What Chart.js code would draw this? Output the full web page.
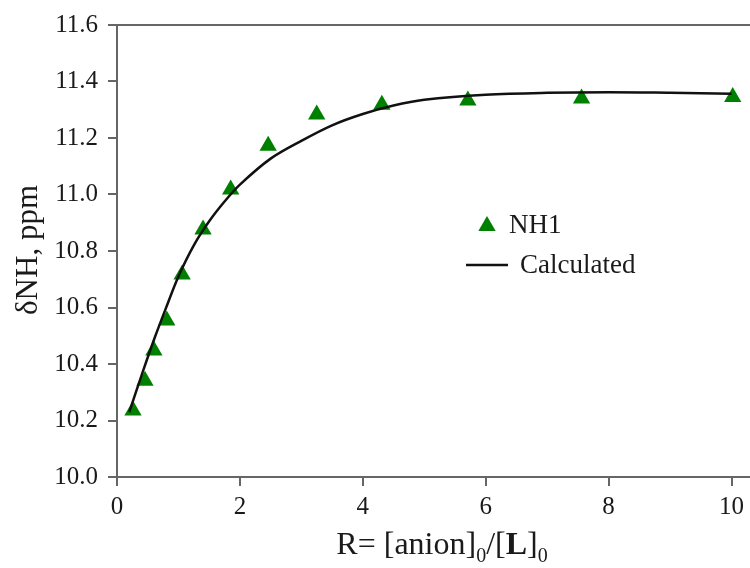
<!DOCTYPE html>
<html>
<head>
<meta charset="utf-8">
<script src="https://cdn.jsdelivr.net/npm/chart.js@4.4.1/dist/chart.umd.min.js"></script>
<style>
  html, body { margin: 0; padding: 0; background: #fff; }
</style>
</head>
<body>
<canvas id="chart" width="750" height="568"></canvas>
<script>
// measured points (NH1)
const ratioNH1 = [0.26, 0.455, 0.60, 0.81, 1.06, 1.40, 1.85, 2.46, 3.25, 4.31, 5.71, 7.56, 10.02];
const shiftNH1 = [10.235, 10.341, 10.448, 10.554, 10.717, 10.876, 11.018, 11.173, 11.283, 11.318, 11.333, 11.340, 11.345];

// fitted curve
const ratioCalc = [0.2, 0.4, 0.6, 0.8, 1.0, 1.25, 1.5, 1.75, 2.0, 2.5, 3.0, 3.5, 4.0, 4.5, 5.0, 6.0, 7.0, 8.0, 9.0, 10.0];
const shiftCalc = [10.23, 10.36, 10.485, 10.60, 10.71, 10.82, 10.905, 10.975, 11.035, 11.127, 11.19, 11.245, 11.285, 11.315, 11.335, 11.353, 11.360, 11.362, 11.360, 11.357];

const labelNH1 = 'NH1';
const labelCalc = 'Calculated';

const serif = '"Liberation Serif", "DejaVu Serif", serif';
const axisColor = '#666666';
const textColor = '#1a1a1a';
const green = '#008000';

function toXY(xs, ys) {
  return xs.map((x, i) => ({ x: x, y: ys[i] }));
}

// top frame line, legend and axis titles (x title has subscripts + bold L)
const extras = {
  id: 'extras',
  afterDraw(chart) {
    const ctx = chart.ctx;
    const area = chart.chartArea;
    ctx.save();

    ctx.strokeStyle = axisColor;
    ctx.lineWidth = 2;
    ctx.beginPath();
    ctx.moveTo(area.left, area.top);
    ctx.lineTo(chart.width, area.top);
    ctx.stroke();

    // legend
    ctx.fillStyle = green;
    const tx = 487, ty = 226, r = 10;
    ctx.beginPath();
    ctx.moveTo(tx, ty - r);
    ctx.lineTo(tx + r * 0.866, ty + r / 2);
    ctx.lineTo(tx - r * 0.866, ty + r / 2);
    ctx.closePath();
    ctx.fill();

    ctx.strokeStyle = '#111';
    ctx.lineWidth = 2.5;
    ctx.beginPath();
    ctx.moveTo(466, 265);
    ctx.lineTo(508, 265);
    ctx.stroke();

    ctx.fillStyle = textColor;
    ctx.font = '27px ' + serif;
    ctx.textBaseline = 'middle';
    ctx.textAlign = 'left';
    ctx.fillText(labelNH1, 509, 226);
    ctx.fillText(labelCalc, 520, 266);

    // y title
    ctx.save();
    ctx.translate(37, 250);
    ctx.rotate(-Math.PI / 2);
    ctx.textAlign = 'center';
    ctx.textBaseline = 'alphabetic';
    ctx.font = '31px ' + serif;
    ctx.fillText('\u03B4NH, ppm', 0, 0);
    ctx.restore();

    // x title
    const parts = [
      { t: 'R= [anion]', f: '32px ' + serif, dy: 0 },
      { t: '0', f: '20px ' + serif, dy: 8 },
      { t: '/[', f: '32px ' + serif, dy: 0 },
      { t: 'L', f: 'bold 32px ' + serif, dy: 0 },
      { t: ']', f: '32px ' + serif, dy: 0 },
      { t: '0', f: '20px ' + serif, dy: 8 }
    ];
    let total = 0;
    parts.forEach(p => { ctx.font = p.f; p.w = ctx.measureText(p.t).width; total += p.w; });
    let x = 442 - total / 2;
    const base = 554;
    ctx.textBaseline = 'alphabetic';
    parts.forEach(p => {
      ctx.font = p.f;
      ctx.fillText(p.t, x, base + p.dy);
      x += p.w;
    });

    ctx.restore();
  }
};

const config = {
  type: 'scatter',
  data: {
    datasets: [
      {
        label: labelCalc,
        data: toXY(ratioCalc, shiftCalc),
        showLine: true,
        borderColor: '#111',
        borderWidth: 2.5,
        pointRadius: 0,
        fill: false,
        tension: 0.35,
        order: 0
      },
      {
        label: labelNH1,
        data: toXY(ratioNH1, shiftNH1),
        pointStyle: 'triangle',
        pointRadius: 10,
        backgroundColor: green,
        borderColor: green,
        borderWidth: 0,
        order: 1
      }
    ]
  },
  options: {
    responsive: false,
    animation: false,
    layout: { autoPadding: false, padding: { top: 24, right: 0, left: 0, bottom: 0 } },
    plugins: {
      legend: { display: false },
      tooltip: { enabled: false }
    },
    scales: {
      x: {
        type: 'linear',
        min: 0,
        max: 10.28,
        afterFit: s => { s.height = 91; },
        ticks: {
          stepSize: 2,
          includeBounds: false,
          padding: 6,
          color: textColor,
          font: { family: serif, size: 25 }
        },
        grid: { drawOnChartArea: false, tickLength: 9, color: axisColor, lineWidth: 2 },
        border: { color: axisColor, width: 2 }
      },
      y: {
        type: 'linear',
        min: 10.0,
        max: 11.6,
        afterFit: s => { s.width = 117; },
        ticks: {
          stepSize: 0.2,
          padding: 10,
          color: textColor,
          font: { family: serif, size: 25 },
          callback: v => v.toFixed(1)
        },
        grid: { drawOnChartArea: false, tickLength: 9, color: axisColor, lineWidth: 2 },
        border: { color: axisColor, width: 2 }
      }
    }
  },
  plugins: [extras]
};

const myChart = new Chart(document.getElementById('chart'), config);
</script>
</body>
</html>
